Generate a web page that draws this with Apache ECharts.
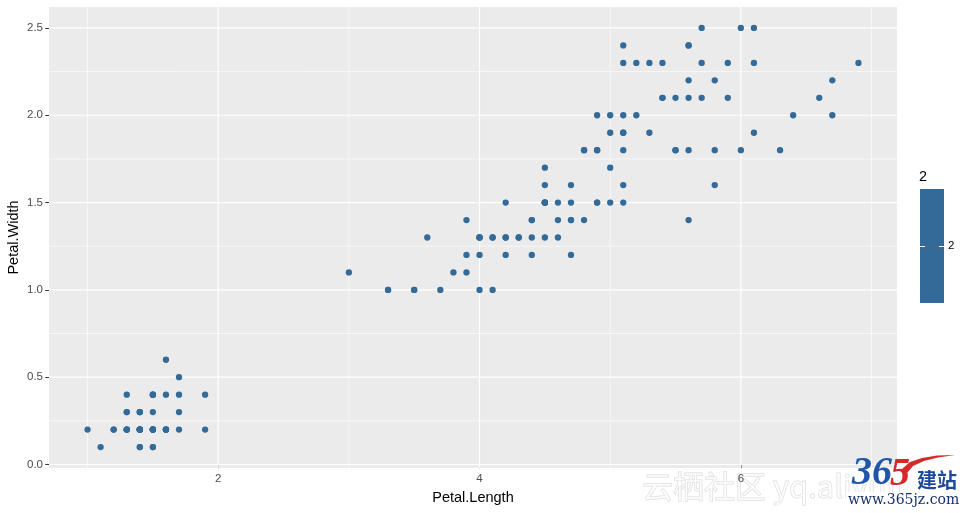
<!DOCTYPE html>
<html>
<head>
<meta charset="utf-8">
<script src="https://cdn.jsdelivr.net/npm/echarts@6/dist/echarts.min.js"></script>
<style>html,body{margin:0;padding:0;background:#fff}#c{width:971px;height:513px}</style>
</head>
<body>
<div id="c"></div>
<script>
// iris: Petal.Length / Petal.Width
var petalLength = [1.4,1.4,1.3,1.5,1.4,1.7,1.4,1.5,1.4,1.5,1.5,1.6,1.4,1.1,1.2,1.5,1.3,1.4,1.7,1.5,1.7,1.5,1.0,1.7,1.9,1.6,1.6,1.5,1.4,1.6,1.6,1.5,1.5,1.4,1.5,1.2,1.3,1.4,1.3,1.5,1.3,1.3,1.3,1.6,1.9,1.4,1.6,1.4,1.5,1.4,
4.7,4.5,4.9,4.0,4.6,4.5,4.7,3.3,4.6,3.9,3.5,4.2,4.0,4.7,3.6,4.4,4.5,4.1,4.5,3.9,4.8,4.0,4.9,4.7,4.3,4.4,4.8,5.0,4.5,3.5,3.8,3.7,3.9,5.1,4.5,4.5,4.7,4.4,4.1,4.0,4.4,4.6,4.0,3.3,4.2,4.2,4.2,4.3,3.0,4.1,
6.0,5.1,5.9,5.6,5.8,6.6,4.5,6.3,5.8,6.1,5.1,5.3,5.5,5.0,5.1,5.3,5.5,6.7,6.9,5.0,5.7,4.9,6.7,4.9,5.7,6.0,4.8,4.9,5.6,5.8,6.1,6.4,5.6,5.1,5.6,6.1,5.6,5.5,5.4,5.4,5.6,5.1,5.1,5.9,5.7,5.2,5.0,5.2,5.4,5.1];
var petalWidth = [0.2,0.2,0.2,0.2,0.2,0.4,0.3,0.2,0.2,0.1,0.2,0.2,0.1,0.1,0.2,0.4,0.4,0.3,0.3,0.3,0.2,0.4,0.2,0.5,0.2,0.2,0.4,0.2,0.2,0.2,0.2,0.4,0.1,0.2,0.2,0.2,0.2,0.1,0.2,0.2,0.3,0.3,0.2,0.6,0.4,0.3,0.2,0.2,0.2,0.2,
1.4,1.5,1.5,1.3,1.5,1.3,1.6,1.0,1.3,1.4,1.0,1.5,1.0,1.4,1.3,1.4,1.5,1.0,1.5,1.1,1.8,1.3,1.5,1.2,1.3,1.4,1.4,1.7,1.5,1.0,1.1,1.0,1.2,1.6,1.5,1.6,1.5,1.3,1.3,1.3,1.2,1.4,1.2,1.0,1.3,1.2,1.3,1.3,1.1,1.3,
2.5,1.9,2.1,1.8,2.2,2.1,1.7,1.8,1.8,2.5,2.0,1.9,2.1,2.0,2.4,2.3,1.8,2.2,2.3,1.5,2.3,2.0,2.0,1.8,2.1,1.8,1.8,1.8,2.1,1.6,1.9,2.0,2.2,1.5,1.4,2.3,2.4,1.8,2.1,2.1,2.4,2.3,1.9,2.3,2.5,2.3,1.9,2.0,2.3,1.8];
var xMajor = [2, 4, 6];
var xMinor = [1, 3, 5, 7];
var yMajor = [0, 0.5, 1.0, 1.5, 2.0, 2.5];
var yMinor = [0.25, 0.75, 1.25, 1.75, 2.25];
var legendTitle = '2';
var legendLabel = '2';

var X_MIN = 0.705, X_MAX = 7.195, Y_MIN = -0.02, Y_MAX = 2.62;
var pointColor = '#336A98';
var chart = echarts.init(document.getElementById('c'), null, {renderer: 'canvas'});
var pts = petalLength.map(function (x, i) { return [x, petalWidth[i]]; });

function gridSeries(v, isX, w) {
  return {
    type: 'line', silent: true, z: 1, showSymbol: false, symbol: 'none',
    data: isX ? [[v, Y_MIN], [v, Y_MAX]] : [[X_MIN, v], [X_MAX, v]],
    lineStyle: {color: '#FFFFFF', width: w}, emphasis: {disabled: true}, animation: false
  };
}
var series = [];
xMinor.forEach(function (v) { series.push(gridSeries(v, true, 0.6)); });
yMinor.forEach(function (v) { series.push(gridSeries(v, false, 0.6)); });
xMajor.forEach(function (v) { series.push(gridSeries(v, true, 1.2)); });
yMajor.forEach(function (v) { series.push(gridSeries(v, false, 1.2)); });
series.push({type: 'scatter', z: 5, data: pts, symbolSize: 6.3, itemStyle: {color: pointColor, opacity: 1}});

var font = 'Liberation Sans, Arial, Helvetica, sans-serif';
chart.setOption({
  animation: false,
  backgroundColor: '#ffffff',
  grid: {left: 49, right: 74, top: 7, bottom: 45, show: true, backgroundColor: '#EBEBEB', borderWidth: 0, containLabel: false, outerBoundsMode: 'none'},
  xAxis: {
    type: 'value', min: X_MIN, max: X_MAX,
    name: 'Petal.Length', nameLocation: 'middle', nameGap: 22, nameMoveOverlap: false,
    nameTextStyle: {fontFamily: font, fontSize: 14.5, color: '#000'},
    axisLine: {show: false},
    splitLine: {show: false},
    axisTick: {show: true, length: 3.7, lineStyle: {color: '#333333', width: 1}, customValues: xMajor},
    axisLabel: {fontFamily: font, fontSize: 11.5, color: '#4D4D4D', margin: 5, customValues: xMajor, formatter: function (v) { return String(v); }}
  },
  yAxis: {
    type: 'value', min: Y_MIN, max: Y_MAX,
    name: 'Petal.Width', nameLocation: 'middle', nameGap: 28, nameMoveOverlap: false,
    nameTextStyle: {fontFamily: font, fontSize: 14.5, color: '#000'},
    axisLine: {show: false},
    splitLine: {show: false},
    axisTick: {show: true, length: 3.7, lineStyle: {color: '#333333', width: 1}, customValues: yMajor},
    axisLabel: {fontFamily: font, fontSize: 11.5, color: '#4D4D4D', margin: 6, customValues: yMajor, formatter: function (v) { return v.toFixed(1); }}
  },
  series: series,
  graphic: [
    {type: 'rect', shape: {x: 920, y: 189, width: 24, height: 114}, style: {fill: pointColor}},
    {type: 'line', shape: {x1: 920, y1: 246.5, x2: 925, y2: 246.5}, style: {stroke: '#ffffff', lineWidth: 1}},
    {type: 'line', shape: {x1: 939, y1: 246.5, x2: 944, y2: 246.5}, style: {stroke: '#ffffff', lineWidth: 1}},
    {type: 'text', x: 919, y: 177, style: {text: legendTitle, font: '14.5px ' + font, fill: '#000', verticalAlign: 'middle'}},
    {type: 'text', x: 948, y: 246, style: {text: legendLabel, font: '11.5px ' + font, fill: '#000', verticalAlign: 'middle'}},
    // watermark
    {type: 'text', x: 642, y: 486, z: -1, style: {text: '云栖社区 yq.aliyun.com', font: '31px "Noto Sans CJK SC", sans-serif', fill: 'rgba(255,255,255,0.6)', stroke: 'rgba(195,195,195,0.6)', lineWidth: 1, verticalAlign: 'middle'}},
    {type: 'rect', z: 51, shape: {x: 900, y: 469, width: 71, height: 44}, style: {fill: '#ffffff'}},
    {type: 'rect', z: 51, shape: {x: 846, y: 492, width: 125, height: 21}, style: {fill: '#ffffff'}},
    {type: 'polygon', z: 52, shape: {points: [[902, 469], [910, 462], [922, 458], [937, 455.5], [955, 455], [938, 457.5], [924, 461], [913, 466], [907, 473]]}, style: {fill: '#D42A2A'}},
    {type: 'text', x: 852, y: 474, z: 52, style: {text: '3', font: 'italic bold 40px "Liberation Serif", serif', fill: '#1F56A8', verticalAlign: 'middle'}},
    {type: 'text', x: 872, y: 474, z: 52, style: {text: '6', font: 'italic bold 40px "Liberation Serif", serif', fill: '#1F56A8', verticalAlign: 'middle'}},
    {type: 'text', x: 890, y: 475, z: 52, style: {text: '5', font: 'italic bold 40px "Liberation Serif", serif', fill: '#D42A2A', verticalAlign: 'middle'}},
    {type: 'text', x: 917, y: 480, z: 52, style: {text: '建站', font: 'bold 20px "Noto Sans CJK SC", sans-serif', fill: '#1E4A9A', verticalAlign: 'middle'}},
    {type: 'text', x: 848, y: 500, z: 52, style: {text: 'www.365jz.com', font: '14px "DejaVu Serif", serif', fill: '#14306E', verticalAlign: 'middle'}}
  ]
});
</script>
</body>
</html>
